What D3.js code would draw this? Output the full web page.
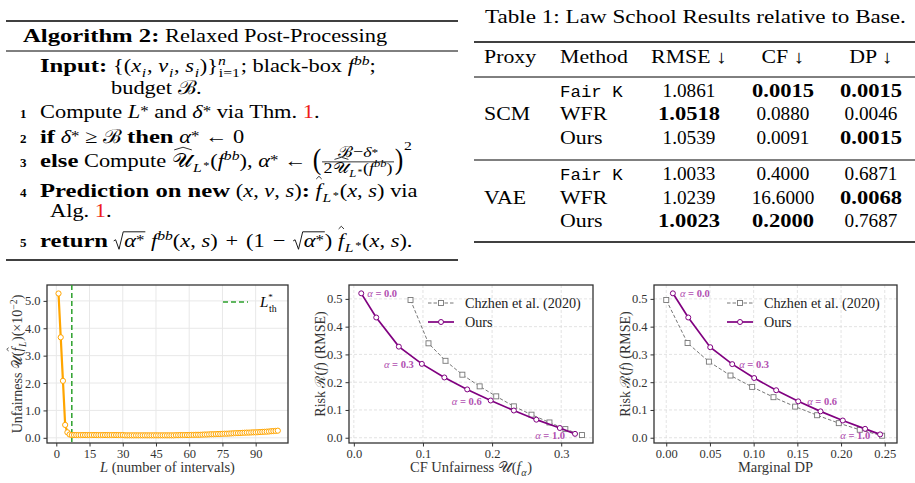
<!DOCTYPE html>
<html>
<meta charset="utf-8">
<head>
<script src="https://d3js.org/d3.v7.min.js"></script>
<style>
  body { margin: 0; background: #fff; }
  text { font-family: "Liberation Serif", "DejaVu Serif", serif; white-space: pre; }
</style>
</head>
<body>
<svg id="fig" width="915" height="483"></svg>
<script>
// ---------- table data ----------
var tableHead = ["Proxy", "Method", "RMSE ↓", "CF ↓", "DP ↓"];
var proxies = ["SCM", "VAE"];
var methods = ["Fair K", "WFR", "Ours"];
var rmseVals = [["1.0861", "1.0518", "1.0539"], ["1.0033", "1.0239", "1.0023"]];
var cfVals   = [["0.0015", "0.0880", "0.0091"], ["0.4000", "16.6000", "0.2000"]];
var dpVals   = [["0.0015", "0.0046", "0.0015"], ["0.6871", "0.0068", "0.7687"]];
var rmseBold = [[0, 1, 0], [0, 0, 1]];
var cfBold   = [[1, 0, 0], [0, 0, 1]];
var dpBold   = [[1, 0, 1], [0, 1, 0]];

// ---------- panel 1: unfairness vs L ----------
var Lvals = d3.range(1, 101);
var unfair = [5.27, 3.67, 2.08, 0.47, 0.20, 0.12,
  0.10, 0.10, 0.10, 0.10, 0.10, 0.10, 0.10, 0.10, 0.10, 0.10, 0.10, 0.10,
  0.10, 0.10, 0.10, 0.10, 0.10, 0.10, 0.10, 0.10, 0.10, 0.10, 0.10, 0.10,
  0.09, 0.09, 0.09, 0.09, 0.09, 0.09, 0.09, 0.09, 0.09, 0.09,
  0.09, 0.09, 0.09, 0.09, 0.09, 0.09, 0.09, 0.09, 0.09, 0.09,
  0.09, 0.09, 0.09, 0.095, 0.095, 0.10, 0.10, 0.10, 0.10, 0.10,
  0.105, 0.105, 0.11, 0.11, 0.11, 0.115, 0.12, 0.12, 0.125, 0.13,
  0.13, 0.135, 0.14, 0.14, 0.145, 0.15, 0.15, 0.155, 0.16, 0.165,
  0.17, 0.17, 0.175, 0.18, 0.185, 0.19, 0.19, 0.195, 0.20, 0.20,
  0.205, 0.21, 0.215, 0.22, 0.225, 0.23, 0.24, 0.245, 0.25, 0.26];
var Lstar = 7;

// ---------- panels 2 and 3: risk vs unfairness ----------
var cfOurs   = [0.0107, 0.0324, 0.0651, 0.0984, 0.131, 0.164, 0.198, 0.2315, 0.264, 0.298, 0.320];
var riskOurs = [0.520, 0.433, 0.328, 0.266, 0.217, 0.174, 0.134, 0.098, 0.065, 0.035, 0.014];
var cfChz    = [0.082, 0.108, 0.1326, 0.157, 0.182, 0.206, 0.2315, 0.257, 0.283, 0.306, 0.330];
var riskChz  = [0.496, 0.340, 0.277, 0.227, 0.185, 0.149, 0.113, 0.083, 0.055, 0.031, 0.0096];
var dpOurs    = [0.0076, 0.0252, 0.0503, 0.0755, 0.1006, 0.1258, 0.151, 0.1765, 0.202, 0.2275, 0.2447];
var dpRiskOurs = [0.520, 0.433, 0.326, 0.265, 0.215, 0.171, 0.131, 0.095, 0.062, 0.032, 0.012];
var dpChz     = [0.0, 0.0244, 0.0488, 0.0735, 0.0983, 0.1227, 0.1475, 0.1726, 0.1974, 0.2214, 0.247];
var dpRiskChz = [0.496, 0.341, 0.274, 0.224, 0.183, 0.146, 0.112, 0.081, 0.0525, 0.0286, 0.0072];
var annoIdx  = [0, 3, 6, 10];
var annoText = ["α = 0.0", "α = 0.3", "α = 0.6", "α = 1.0"];

var svg = d3.select("svg#fig");
var RED = "#ee1c1c";
var MONO = "'Liberation Mono', 'DejaVu Sans Mono', monospace";
// horizontal stretch so Times-like glyphs take the width of the LaTeX fonts
var TEXT_SX = {r: 1.18, b: 1.3, m: 1.07};
var CHART_SX = {r: 1, b: 1, m: 1};

// rich text: pieces laid out left to right, returns end x
function put(g, x, y, pieces, size, sxMap) {
  sxMap = sxMap || TEXT_SX;
  var cx = x;
  pieces.forEach(function(p) {
    if (p.gap) { cx += p.gap * size; return; }
    if (p.sqrt) {
      var x0 = cx;
      var end = put(g, cx + size * 0.55, y, p.sqrt, size, sxMap) + 1;
      g.append("path")
        .attr("d", "M" + x0 + "," + (y - size * 0.32) + " l" + (size * 0.1) + "," + (-size * 0.06) +
          " L" + (x0 + size * 0.28) + "," + (y + size * 0.12) + " L" + (x0 + size * 0.5) + "," + (y - size * 0.8) +
          " L" + end + "," + (y - size * 0.8))
        .attr("fill", "none").attr("stroke", "#000").attr("stroke-width", 0.9);
      cx = end; return;
    }
    if (p.frac) {
      var fs = size * 0.8;
      var gn = g.append("g"), gd = g.append("g");
      var wn = put(gn, 0, 0, p.frac[0], fs, sxMap);
      var wd = put(gd, 0, 0, p.frac[1], fs, sxMap);
      var w = Math.max(wn, wd) + 3;
      gn.attr("transform", "translate(" + (cx + (w - wn) / 2) + "," + (y - size * 0.52) + ")");
      gd.attr("transform", "translate(" + (cx + (w - wd) / 2) + "," + (y + size * 0.32) + ")");
      g.append("line").attr("x1", cx).attr("x2", cx + w)
        .attr("y1", y - size * 0.27).attr("y2", y - size * 0.27)
        .attr("stroke", "#000").attr("stroke-width", 0.8);
      cx += w; return;
    }
    var fsz = size * (p.s || 1);
    var by = y + (p.dy || 0) * size;
    var sx = p.sx || (p.m ? sxMap.m : p.b ? sxMap.b : sxMap.r);
    if (p.dy > 0) cx += size * 0.04;   // a little air round subscripts
    var t = g.append("text")
      .attr("xml:space", "preserve")
      .attr("transform", "translate(" + cx + "," + by + ") scale(" + sx + ",1)")
      .style("font-size", fsz + "px")
      .style("font-weight", p.b ? "bold" : null)
      .style("font-style", p.i ? "italic" : null)
      .style("font-family", p.m ? MONO : null)
      .attr("fill", p.c || "#000")
      .text(p.t);
    var w = t.node().getComputedTextLength() * sx;
    if (p.hat) {
      var hy = by - fsz * (p.hat === true ? 0.82 : p.hat);
      g.append("path")
        .attr("d", "M" + (cx + w * 0.12) + "," + hy + " L" + (cx + w * 0.55) + "," + (hy - fsz * 0.14) +
          " L" + (cx + w * 0.98) + "," + hy)
        .attr("fill", "none").attr("stroke", "#000").attr("stroke-width", 0.8);
    }
    if (!p.keep) cx += w;
    if (p.dy > 0) cx += size * 0.04;
  });
  return cx;
}
function n(t, o) { return Object.assign({t: t}, o || {}); }
function it(t, o) { return Object.assign({t: t, i: true}, o || {}); }
function bf(t) { return {t: t, b: true}; }
function sub(t, o) { return Object.assign({t: t, s: 0.7, dy: 0.28, i: true}, o || {}); }
function sup(t, o) { return Object.assign({t: t, s: 0.7, dy: -0.38, i: true}, o || {}); }
var star = {t: "*", s: 0.75, dy: -0.08};
var lstar = [sub("L"), {t: "*", s: 0.55, dy: 0.12}];
var bin = {gap: 0.12};

// ---------- algorithm box ----------
var alg = svg.append("g");
var AS = 19;
[[21, 1.3], [51, 1], [260, 1.3]].forEach(function(r) {
  alg.append("line").attr("x1", 6).attr("x2", 458).attr("y1", r[0]).attr("y2", r[0])
    .attr("stroke", "#000").attr("stroke-width", r[1]);
});
put(alg, 23, 42, [bf("Algorithm 2:"), n(" Relaxed Post-Processing")], AS);
put(alg, 40, 72, [bf("Input:"), {gap: 0.3}, n("{("), it("x"), sub("i"), n(", "), it("v"), sub("i"), n(", "),
  it("s"), sub("i"), n(")}"), sup("n", {keep: true}), sub("i=1", {i: false}), n("; black-box "), it("f"), sup("bb"), n(";")], AS);
put(alg, 111, 94, [n("budget "), n("ℬ"), n(".")], AS);
var lineNo = [[1, 118], [2, 143], [3, 167], [4, 197], [5, 247]];
lineNo.forEach(function(l) {
  alg.append("text").attr("x", 20).attr("y", l[1]).style("font-size", "13px").style("font-weight", "bold").text(l[0]);
});
put(alg, 40, 118, [n("Compute "), it("L"), star, n(" and "), it("δ"), star, n(" via Thm. "), n("1", {c: RED}), n(".")], AS);
put(alg, 40, 143, [bf("if"), n(" "), it("δ"), star, n(" ≥ ℬ "), bf("then"), n(" "), it("α"), star, n(" ← 0")], AS);
put(alg, 40, 167, [bf("else"), n(" Compute "), n("𝒰", {hat: 0.9})].concat(lstar,
  [n("("), it("f"), sup("bb"), n("), "), it("α"), star, n(" ← "), n("(", {s: 1.5, dy: 0.12, sx: 0.9}),
   {frac: [[n("ℬ"), n("−"), it("δ"), star],
           [n("2"), n("𝒰", {hat: 0.9}), sub("L"), {t: "*", s: 0.55, dy: 0.12}, n("("), it("f"), sup("bb"), n(")")]]},
   n(")", {s: 1.5, dy: 0.12, sx: 0.9}), sup("2", {i: false, dy: -0.9})]), AS);
put(alg, 40, 197, [bf("Prediction on new"), n(" ("), it("x"), n(", "), it("v"), n(", "), it("s"), n(")"), bf(":"), n(" "),
  it("f", {hat: 0.95})].concat(lstar, [n("("), it("x"), n(", "), it("s"), n(") via")]), AS);
put(alg, 50, 217, [n("Alg. "), n("1", {c: RED}), n(".")], AS);
put(alg, 40, 247, [bf("return"), n(" "), {sqrt: [it("α"), star]}, n(" "), it("f"), sup("bb"), n("("), it("x"), n(", "), it("s"),
  n(") "), bin, n("+"), bin, n(" (1 "), bin, n("−"), bin, n(" "), {sqrt: [it("α"), star]}, n(") "), it("f", {hat: 0.95})].concat(lstar,
  [n("("), it("x"), n(", "), it("s"), n(").")]), AS);

// ---------- table ----------
var tab = svg.append("g");
var TS = 18.5;
put(tab, 485, 23, [n("Table 1: Law School Results relative to Base.")], TS, {r: 1.25});
[[42, 1.6], [77, 1], [160, 1], [242, 1.6]].forEach(function(r) {
  tab.append("line").attr("x1", 474).attr("x2", 915).attr("y1", r[0]).attr("y2", r[0])
    .attr("stroke", "#000").attr("stroke-width", r[1]);
});
function cell(x, y, piece, anchor) {
  var gc = tab.append("g");
  var w = put(gc, 0, 0, [piece], TS);
  gc.attr("transform", "translate(" + (anchor === "middle" ? x - w / 2 : x) + "," + y + ")");
}
var colX = [484, 560, 689, 783, 871];
var colAnchor = ["start", "start", "middle", "middle", "middle"];
tableHead.forEach(function(h, i) { cell(colX[i], 63, n(h), colAnchor[i]); });
var rowY = [[97, 120, 144], [180, 204, 227]];
proxies.forEach(function(p, pi) {
  cell(colX[0], rowY[pi][1], n(p), "start");
  methods.forEach(function(m, mi) {
    var yy = rowY[pi][mi];
    cell(colX[1], yy, m === "Fair K" ? n(m, {m: true, s: 0.88}) : n(m), "start");
    [[rmseVals, rmseBold], [cfVals, cfBold], [dpVals, dpBold]].forEach(function(c, ci) {
      var bold = c[1][pi][mi];
      cell(colX[ci + 2], yy, n(c[0][pi][mi], {b: !!bold, sx: bold ? 1.22 : 1.04}), "middle");
    });
  });
});

// ---------- chart panels ----------
function panel(cfg) {
  var g = svg.append("g");
  var x = d3.scaleLinear().domain(cfg.xDom).range([cfg.left, cfg.right]);
  var y = d3.scaleLinear().domain(cfg.yDom).range([cfg.bottom, cfg.top]);
  var gridStyle = function(sel) {
    sel.attr("stroke", cfg.dashed ? "#dcdcdc" : "#e8e8e8").attr("stroke-width", cfg.dashed ? 0.8 : 1)
      .attr("stroke-dasharray", cfg.dashed ? "3,2" : null);
  };
  g.selectAll(".gx").data(cfg.xTicks).enter().append("line")
    .attr("x1", function(d) { return x(d); }).attr("x2", function(d) { return x(d); })
    .attr("y1", cfg.top).attr("y2", cfg.bottom).call(gridStyle);
  g.selectAll(".gy").data(cfg.yTicks).enter().append("line")
    .attr("y1", function(d) { return y(d); }).attr("y2", function(d) { return y(d); })
    .attr("x1", cfg.left).attr("x2", cfg.right).call(gridStyle);
  var ax = g.append("g").attr("transform", "translate(0," + cfg.bottom + ")")
    .call(d3.axisBottom(x).tickValues(cfg.xTicks).tickFormat(d3.format(cfg.xFmt)).tickSize(3.5).tickPadding(3));
  var ay = g.append("g").attr("transform", "translate(" + cfg.left + ",0)")
    .call(d3.axisLeft(y).tickValues(cfg.yTicks).tickFormat(d3.format(cfg.yFmt)).tickSize(3.5).tickPadding(3));
  [ax, ay].forEach(function(a) {
    a.select(".domain").remove();
    a.selectAll(".tick line").attr("stroke", "#333");
    a.selectAll(".tick text").attr("fill", "#333")
      .style("font-family", "'Liberation Serif', serif").style("font-size", "12.5px");
  });
  g.append("rect").attr("x", cfg.left).attr("y", cfg.top)
    .attr("width", cfg.right - cfg.left).attr("height", cfg.bottom - cfg.top)
    .attr("fill", "none").attr("stroke", "#333").attr("stroke-width", 1.3);
  // x label
  var gx = g.append("g");
  var wx = put(gx, 0, 0, cfg.xLabel, 14.5, CHART_SX);
  gx.attr("transform", "translate(" + ((cfg.left + cfg.right) / 2 - wx / 2) + ",472)");
  gx.selectAll("text").attr("fill", "#333");
  // y label (rotated)
  var gy = g.append("g");
  var wy = put(gy, 0, 0, cfg.yLabel, 14, CHART_SX);
  gy.attr("transform", "translate(" + cfg.yLabelX + "," + ((cfg.top + cfg.bottom) / 2 + wy / 2) + ") rotate(-90)");
  gy.selectAll("text").attr("fill", "#333");
  gy.selectAll("path").attr("stroke", "#333");
  return {g: g, x: x, y: y};
}

// panel 1
var p1 = panel({left: 47, right: 288, top: 285, bottom: 443, xDom: [-4.2, 104.6], yDom: [-0.19, 5.58],
  xTicks: [0, 15, 30, 45, 60, 75, 90], yTicks: [0, 1, 2, 3, 4, 5], xFmt: "d", yFmt: ".1f", dashed: false,
  xLabel: [it("L"), n(" (number of intervals)")],
  yLabel: [n("Unfairness "), n("𝒰"), n("("), it("f", {hat: 0.95}), sub("L"), n(")(×10"), sup("−2", {i: false}), n(")")],
  yLabelX: 22});
p1.g.append("line")
  .attr("x1", p1.x(Lstar)).attr("x2", p1.x(Lstar)).attr("y1", 285).attr("y2", 443)
  .attr("stroke", "#2ca02c").attr("stroke-width", 1.5).attr("stroke-dasharray", "5,3");
var pts1 = Lvals.map(function(l, i) { return [l, unfair[i]]; });
p1.g.append("path").datum(pts1)
  .attr("d", d3.line().x(function(d) { return p1.x(d[0]); }).y(function(d) { return p1.y(d[1]); }))
  .attr("fill", "none").attr("stroke", "#ffa500").attr("stroke-width", 2.2);
p1.g.selectAll(".m1").data(pts1).enter().append("circle")
  .attr("cx", function(d) { return p1.x(d[0]); }).attr("cy", function(d) { return p1.y(d[1]); })
  .attr("r", 2.6).attr("fill", "#fff").attr("stroke", "#ffa500").attr("stroke-width", 1);
p1.g.append("line").attr("x1", 223).attr("x2", 248).attr("y1", 302).attr("y2", 302)
  .attr("stroke", "#2ca02c").attr("stroke-width", 1.5).attr("stroke-dasharray", "5,3");
put(p1.g, 260, 307, [it("L"), {t: "*", s: 0.6, dy: -0.45, keep: true}, {t: "th", s: 0.65, dy: 0.3}], 15, CHART_SX);

// panels 2 and 3
function tradeoff(cfg, xo, yo, xc, yc) {
  var p = panel(cfg);
  var ptsC = xc.map(function(v, i) { return [v, yc[i]]; });
  var ptsO = xo.map(function(v, i) { return [v, yo[i]]; });
  var line = d3.line().x(function(d) { return p.x(d[0]); }).y(function(d) { return p.y(d[1]); });
  p.g.append("path").datum(ptsC).attr("d", line).attr("fill", "none")
    .attr("stroke", "#777").attr("stroke-width", 1).attr("stroke-dasharray", "3.5,2");
  p.g.selectAll(".sq").data(ptsC).enter().append("rect")
    .attr("x", function(d) { return p.x(d[0]) - 2.5; }).attr("y", function(d) { return p.y(d[1]) - 2.5; })
    .attr("width", 5).attr("height", 5).attr("fill", "#fff").attr("stroke", "#777").attr("stroke-width", 0.9);
  p.g.append("path").datum(ptsO).attr("d", line).attr("fill", "none")
    .attr("stroke", "#800080").attr("stroke-width", 1.7);
  p.g.selectAll(".ci").data(ptsO).enter().append("circle")
    .attr("cx", function(d) { return p.x(d[0]); }).attr("cy", function(d) { return p.y(d[1]); })
    .attr("r", 2.5).attr("fill", "#fff").attr("stroke", "#800080").attr("stroke-width", 1);
  annoIdx.forEach(function(k, j) {
    var o = cfg.anno[j];
    var ga = p.g.append("g");
    var w = put(ga, 0, 0, [it("α"), n(annoText[j].slice(1), {b: true})], 10.5, CHART_SX);
    ga.selectAll("text").attr("fill", "#b150b1");
    var ax0 = p.x(ptsO[k][0]) + o[0] - (o[0] < 0 ? w : 0);
    ga.attr("transform", "translate(" + ax0 + "," + (p.y(ptsO[k][1]) + o[1]) + ")");
  });
  // legend
  var lx = cfg.legX;
  p.g.append("line").attr("x1", lx).attr("x2", lx + 26).attr("y1", 303).attr("y2", 303)
    .attr("stroke", "#777").attr("stroke-width", 1).attr("stroke-dasharray", "3.5,2");
  p.g.append("rect").attr("x", lx + 10.5).attr("y", 300.5).attr("width", 5).attr("height", 5)
    .attr("fill", "#fff").attr("stroke", "#777").attr("stroke-width", 0.9);
  p.g.append("text").attr("x", lx + 37).attr("y", 308).style("font-size", "14.2px").attr("fill", "#222")
    .text("Chzhen et al. (2020)");
  p.g.append("line").attr("x1", lx).attr("x2", lx + 26).attr("y1", 322).attr("y2", 322)
    .attr("stroke", "#800080").attr("stroke-width", 1.7);
  p.g.append("circle").attr("cx", lx + 13).attr("cy", 322).attr("r", 2.5)
    .attr("fill", "#fff").attr("stroke", "#800080").attr("stroke-width", 1);
  p.g.append("text").attr("x", lx + 37).attr("y", 327).style("font-size", "14.2px").attr("fill", "#222").text("Ours");
}

var riskLabel = [n("Risk "), n("ℛ"), n("("), it("f"), n(") (RMSE)")];
tradeoff({left: 349, right: 593, top: 285, bottom: 443, xDom: [-0.007, 0.346], yDom: [-0.019, 0.55],
  xTicks: [0, 0.1, 0.2, 0.3], yTicks: [0, 0.1, 0.2, 0.3, 0.4, 0.5], xFmt: ".1f", yFmt: ".1f", dashed: true,
  xLabel: [n("CF Unfairness "), n("𝒰"), n("("), it("f"), sub("α"), n(")")],
  yLabel: riskLabel, yLabelX: 325, legX: 428,
  anno: [[6, 4], [-8, 4], [-9, 4], [-10, 5]]}, cfOurs, riskOurs, cfChz, riskChz);
tradeoff({left: 654, right: 897, top: 285, bottom: 443, xDom: [-0.014, 0.264], yDom: [-0.019, 0.55],
  xTicks: [0, 0.05, 0.1, 0.15, 0.2, 0.25], yTicks: [0, 0.1, 0.2, 0.3, 0.4, 0.5], xFmt: ".2f", yFmt: ".1f", dashed: true,
  xLabel: [n("Marginal DP")],
  yLabel: riskLabel, yLabelX: 630, legX: 727,
  anno: [[7, 4], [7, 4], [9, 4], [-10, 5]]}, dpOurs, dpRiskOurs, dpChz, dpRiskChz);
</script>
</body>
</html>
